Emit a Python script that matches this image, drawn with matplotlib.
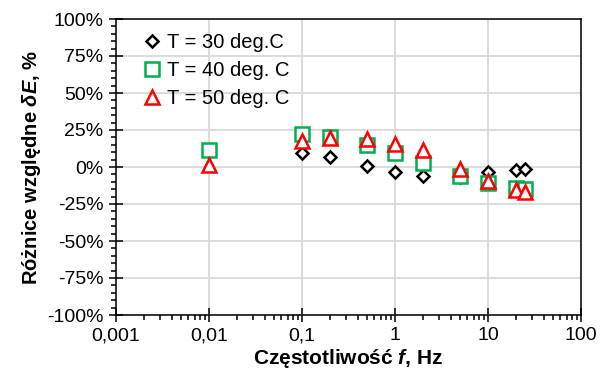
import numpy as np
import matplotlib.pyplot as plt
from matplotlib.ticker import FixedLocator, FuncFormatter, LogLocator, MultipleLocator

plt.rcParams['font.family'] = ['Liberation Sans', 'DejaVu Sans']
plt.rcParams['mathtext.fontset'] = 'custom'
plt.rcParams['mathtext.rm'] = 'Liberation Sans:bold'
plt.rcParams['mathtext.it'] = 'Liberation Sans:italic:bold'

# data (relative difference in %)
freq_30 = [0.1, 0.2, 0.5, 1, 2, 5, 10, 20, 25]
diff_30 = [9.5, 6.5, 0.4, -3.4, -5.9, -7.0, -3.4, -2.3, -1.1]

freq_40 = [0.01, 0.1, 0.2, 0.5, 1, 2, 5, 10, 20, 25]
diff_40 = [11.7, 22.5, 20.3, 15.1, 9.5, 2.7, -6.4, -10.8, -14.2, -14.9]

freq_50 = [0.01, 0.1, 0.2, 0.5, 1, 2, 5, 10, 20, 25]
diff_50 = [1.1, 17.3, 19.6, 19.1, 15.7, 11.7, -1.5, -9.3, -15.8, -17.2]

x_ticks = [0.001, 0.01, 0.1, 1, 10, 100]
x_tick_labels = ['0,001', '0,01', '0,1', '1', '10', '100']

fig = plt.figure(figsize=(6.01, 3.76), dpi=100)
ax = fig.add_axes([116 / 601, 1 - 315 / 376, 465 / 601, 296 / 376])

ax.plot(freq_30, diff_30, linestyle='none', marker='D', markersize=6.5,
        markeredgewidth=1.8, markeredgecolor='black', markerfacecolor='white',
        label='T = 30 deg.C', zorder=3)
ax.plot(freq_40, diff_40, linestyle='none', marker='s', markersize=9.5,
        markeredgewidth=1.8, markeredgecolor='#00B050', markerfacecolor='white',
        label='T = 40 deg. C', zorder=4)
ax.plot(freq_50, diff_50, linestyle='none', marker='^', markersize=10,
        markeredgewidth=1.8, markeredgecolor='#FF0000', markerfacecolor='white',
        label='T = 50 deg. C', zorder=5)

ax.set_xscale('log')
ax.set_xlim(0.001, 100)
ax.set_ylim(-100, 100)

ax.xaxis.set_major_locator(FixedLocator(x_ticks))
ax.set_xticklabels(x_tick_labels)
ax.xaxis.set_minor_locator(LogLocator(base=10, subs=np.arange(2, 10)))
ax.xaxis.set_minor_formatter(FuncFormatter(lambda v, p: ''))

ax.yaxis.set_major_locator(MultipleLocator(25))
ax.yaxis.set_minor_locator(MultipleLocator(5))
ax.yaxis.set_major_formatter(FuncFormatter(lambda v, p: f'{v:.0f}%'))

ax.tick_params(which='major', direction='inout', length=10, width=1.1,
               labelsize=14, pad=4)
ax.tick_params(which='minor', direction='out', length=3.5, width=1.1)

ax.grid(True, which='major', color='#d9d9d9', linewidth=1.3)
ax.set_axisbelow(True)
for s in ax.spines.values():
    s.set_linewidth(1.1)

ax.set_xlabel('Częstotliwość $f$, Hz', fontsize=15, fontweight='bold', labelpad=2)
ax.set_ylabel('Różnice względne $\\delta E$, %', fontsize=14.5, fontweight='bold',
              labelpad=3)

ax.legend(loc='upper left', frameon=False, fontsize=14.5, handlelength=0.7,
          handletextpad=0.35, labelspacing=0.45, borderaxespad=0.3,
          bbox_to_anchor=(0.033, 1.0))

fig.savefig('out.png', dpi=100)
